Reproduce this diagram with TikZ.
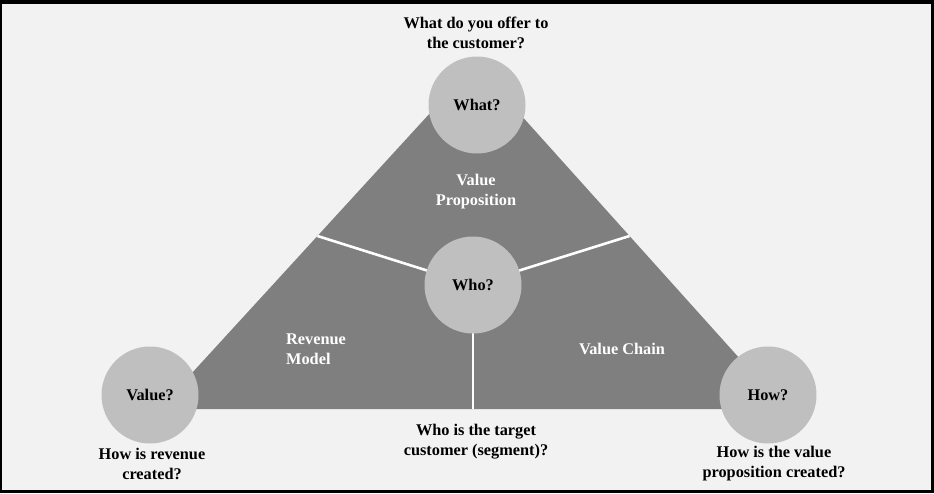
\documentclass[tikz,border=0pt]{standalone}
\usepackage{fontspec}
\setmainfont{Liberation Serif}
\definecolor{bgc}{HTML}{F2F2F2}
\definecolor{tri}{HTML}{7F7F7F}
\definecolor{circ}{HTML}{BFBFBF}
\begin{document}
\begin{tikzpicture}[x=1pt,y=-1pt,
  lbl/.style={font=\fontsize{16.3}{20}\selectfont\bfseries, align=center, text=black, inner sep=0pt},
  inlbl/.style={font=\fontsize{16.3}{20}\selectfont\bfseries, text=white, inner sep=0pt},
  bubble/.style={circle, fill=circ, draw=none, minimum size=97pt, inner sep=0pt, font=\fontsize{16.3}{20}\selectfont\bfseries},
  sep/.style={draw=white, line width=2.6pt}]
\useasboundingbox (0,0) rectangle (934,493);
\fill[black] (0,0) rectangle (934,493);
\fill[bgc] (2,4) rectangle (931,490);
% triangle
\coordinate (A) at (475,64);
\coordinate (BL) at (159,409);
\coordinate (BR) at (785,409);
\coordinate (eL) at (317.5,236);
\coordinate (eR) at (629.5,236);
\coordinate (eB) at (473,409);
\fill[tri] (A) -- (BR) -- (BL) -- cycle;
\coordinate (whoc) at (473,285);
\draw[sep] (whoc) -- (eL);
\draw[sep] (whoc) -- (eR);
\draw[sep] (whoc) -- (eB);
% circles
\node[bubble] (what) at (477,105) {What?};
\node[bubble] (who) at (473,285) {Who?};
\node[bubble] (value) at (150,395) {Value?};
\node[bubble] (how) at (768,395) {How?};
% inner labels
\node[inlbl, align=center] (vp) at (476,192) {Value\\Proposition};
\node[inlbl, align=left, anchor=west] (rm) at (286,349) {Revenue\\Model};
\node[inlbl] (vc) at (622,349) {Value Chain};
% outer labels
\node[lbl] (q1) at (476,33) {What do you offer to\\the customer?};
\node[lbl] (q2) at (476,442) {Who is the target\\customer (segment)?};
\node[lbl] (q3) at (152,464) {How is revenue\\created?};
\node[lbl] (q4) at (774,464) {How is the value\\proposition created?};
\end{tikzpicture}
\end{document}
